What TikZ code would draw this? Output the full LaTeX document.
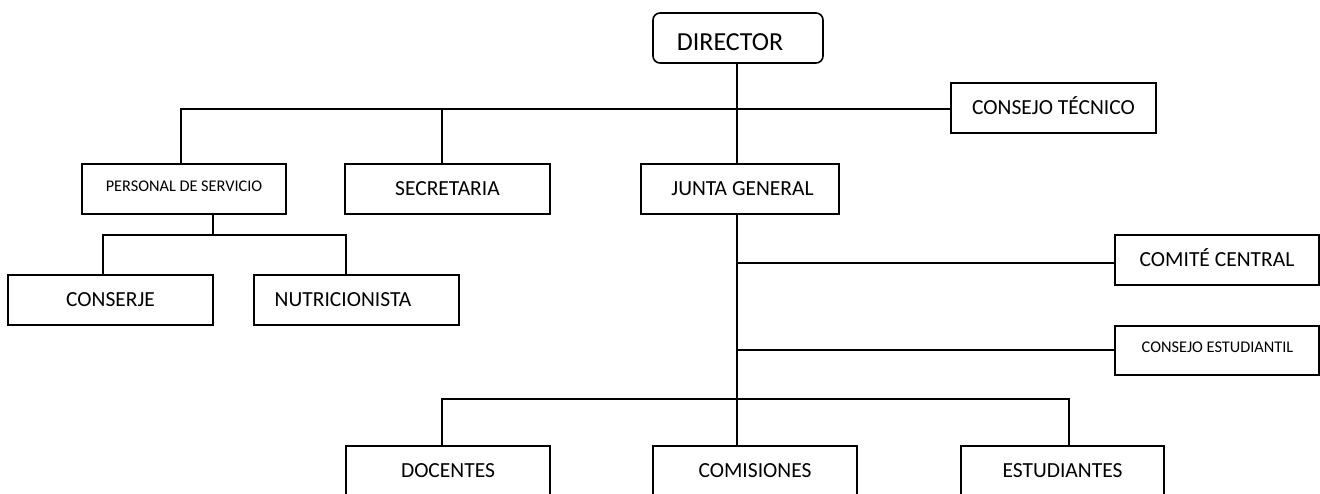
\documentclass[tikz,border=0pt]{standalone}
\usepackage{fontspec}
\setmainfont{Carlito}
\begin{document}
\begin{tikzpicture}[x=1pt,y=-1pt,
  box/.style={draw,line width=1.6pt,inner sep=0pt,outer sep=0pt,minimum width=205pt,minimum height=50pt,
     text height=13.5pt,text depth=0pt,font=\fontsize{21.5}{21.5}\selectfont},
  smallbox/.style={box,text height=10.5pt,font=\fontsize{16.3}{16.3}\selectfont},
  label/.style={inner sep=0pt,text depth=0pt},
  link/.style={line width=1.3pt}]
\clip (0,0) rectangle (1320,493);
\fill[white] (0,0) rectangle (1320,493);
% nodes
\node[box,rounded corners=7pt,minimum width=170pt] (dir) at (738,38) {};
\node[label,text height=16.7pt,font=\fontsize{26}{26}\selectfont] (dirt) at (730,42.5) {DIRECTOR};
\node[box] (ct) at (1053.5,108) {CONSEJO TÉCNICO};
\node[smallbox,minimum width=204pt] (ps) at (184,189) {};
\node[label,text height=10.5pt,font=\fontsize{16.3}{16.3}\selectfont] (pst) at (184,186.5) {PERSONAL DE SERVICIO};
\node[box] (sec) at (447.5,189) {SECRETARIA};
\node[box,minimum width=198pt] (jg) at (740,189) {};
\node[label,text height=13.5pt,font=\fontsize{21.5}{21.5}\selectfont] (jgt) at (742.5,189) {JUNTA GENERAL};
\node[box] (con) at (110.5,300) {CONSERJE};
\node[box] (nut) at (356.5,300) {};
\node[label,text height=13.5pt,font=\fontsize{21.5}{21.5}\selectfont] (nutt) at (343,300) {NUTRICIONISTA};
\node[box,minimum width=204pt] (cc) at (1217,260) {COMITÉ CENTRAL};
\node[smallbox,minimum width=204pt,minimum height=49pt] (ce) at (1217,350.5) {};
\node[label,text height=10.5pt,font=\fontsize{16.3}{16.3}\selectfont] (cet) at (1217.5,347) {CONSEJO ESTUDIANTIL};
\node[box,minimum width=204pt] (doc) at (448,471) {DOCENTES};
\node[box,minimum width=204pt] (com) at (755,471) {COMISIONES};
\node[box,minimum width=203pt] (est) at (1062.5,471) {ESTUDIANTES};
% junction coordinates
\coordinate (mainL) at (181,109);
\coordinate (mainC) at (737,109);
\coordinate (psJ) at (213,235);
\coordinate (psL) at (103,235);
\coordinate (psR) at (346,235);
\coordinate (jgA) at (737,263);
\coordinate (jgB) at (737,350);
\coordinate (botL) at (442,399);
\coordinate (botC) at (737,399);
\coordinate (botR) at (1069,399);
% connectors
\draw[link] (dir.south -| mainC) -- (jg.north -| mainC);
\draw[link] (ps.north -| mainL) -- (mainL) -- (mainL -| ct.west);
\draw[link] (mainL -| botL) -- (sec.north -| botL);
\draw[link] (ps.south -| psJ) -- (psJ);
\draw[link] (psL |- con.north) -- (psL) -- (psR) -- (psR |- nut.north);
\draw[link] (jg.south -| mainC) -- (com.north -| mainC);
\draw[link] (jgA) -- (jgA -| cc.west);
\draw[link] (jgB) -- (jgB -| ce.west);
\draw[link] (botL |- doc.north) -- (botL) -- (botR) -- (botR |- est.north);
\end{tikzpicture}
\end{document}
